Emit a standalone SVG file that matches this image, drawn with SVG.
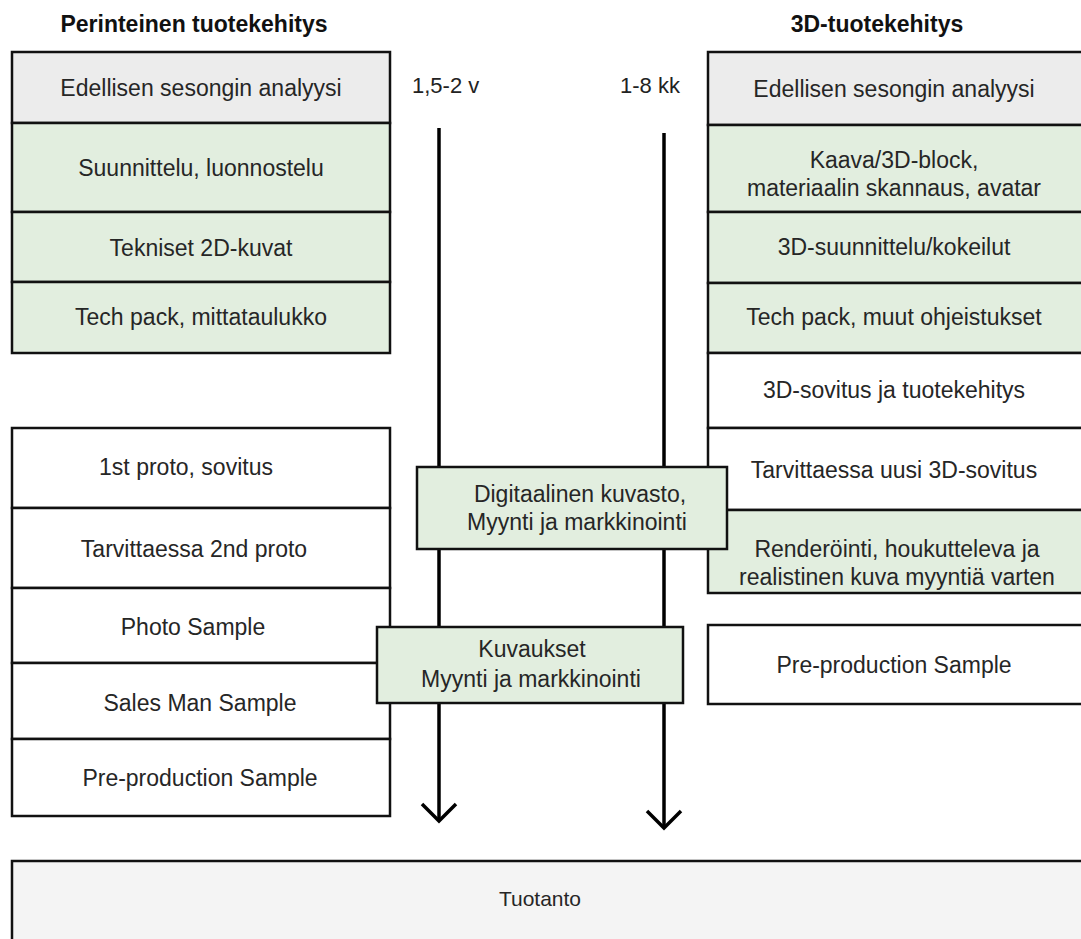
<svg xmlns="http://www.w3.org/2000/svg" width="1081" height="939" viewBox="0 0 1081 939">
<style>
  .box { stroke: #111; stroke-width: 2.5; }
  .gray { fill: #ececec; }
  .green { fill: #e2eedf; }
  .white { fill: #ffffff; }
  .prod { fill: #f4f4f4; }
  .t { font-family: "Liberation Sans", Arial, sans-serif; font-size: 23px; fill: #262626; text-anchor: middle; }
  .tp { font-family: "Liberation Sans", Arial, sans-serif; font-size: 21px; fill: #262626; text-anchor: middle; }
  .h { font-family: "Liberation Sans", Arial, sans-serif; font-size: 23px; font-weight: bold; fill: #111; text-anchor: middle; }
  .lbl { font-family: "Liberation Sans", Arial, sans-serif; font-size: 22px; fill: #222; }
  .arrow { stroke: #000; stroke-width: 3.5; fill: none; }
</style>
<rect width="1081" height="939" fill="#ffffff"/>

<text class="h" x="194" y="32">Perinteinen tuotekehitys</text>
<text class="h" x="877" y="32">3D-tuotekehitys</text>
<text class="lbl" x="412" y="93">1,5-2 v</text>
<text class="lbl" x="620" y="93">1-8 kk</text>

<g id="connectors">
  <line class="arrow" x1="439" y1="128" x2="439" y2="821"/>
  <polyline class="arrow" points="422,804 439,821 456,804"/>
  <line class="arrow" x1="664" y1="133" x2="664" y2="828"/>
  <polyline class="arrow" points="647,811 664,828 681,811"/>
</g>

<g id="left-column">
  <g id="l1"><rect class="box gray" x="12" y="52" width="378" height="71"/><text class="t" x="201" y="96">Edellisen sesongin analyysi</text></g>
  <g id="l2"><rect class="box green" x="12" y="123" width="378" height="89"/><text class="t" x="201" y="176">Suunnittelu, luonnostelu</text></g>
  <g id="l3"><rect class="box green" x="12" y="212" width="378" height="70"/><text class="t" x="201" y="256">Tekniset 2D-kuvat</text></g>
  <g id="l4"><rect class="box green" x="12" y="282" width="378" height="71"/><text class="t" x="201" y="325">Tech pack, mittataulukko</text></g>
  <g id="l5"><rect class="box white" x="12" y="428" width="378" height="80"/><text class="t" x="186" y="475">1st proto, sovitus</text></g>
  <g id="l6"><rect class="box white" x="12" y="508" width="378" height="80"/><text class="t" x="194" y="557">Tarvittaessa 2nd proto</text></g>
  <g id="l7"><rect class="box white" x="12" y="588" width="378" height="75"/><text class="t" x="193" y="635">Photo Sample</text></g>
  <g id="l8"><rect class="box white" x="12" y="663" width="378" height="76"/><text class="t" x="200" y="711">Sales Man Sample</text></g>
  <g id="l9"><rect class="box white" x="12" y="739" width="378" height="77"/><text class="t" x="200" y="786">Pre-production Sample</text></g>
</g>

<g id="right-column">
  <g id="r1"><rect class="box gray" x="708" y="52" width="380" height="73"/><text class="t" x="894" y="97">Edellisen sesongin analyysi</text></g>
  <g id="r2"><rect class="box green" x="708" y="125" width="380" height="87"/><text class="t" x="894" y="168">Kaava/3D-block,</text><text class="t" x="894" y="196">materiaalin skannaus, avatar</text></g>
  <g id="r3"><rect class="box green" x="708" y="212" width="380" height="71"/><text class="t" x="894" y="255">3D-suunnittelu/kokeilut</text></g>
  <g id="r4"><rect class="box green" x="708" y="283" width="380" height="70"/><text class="t" x="894" y="325">Tech pack, muut ohjeistukset</text></g>
  <g id="r5"><rect class="box white" x="708" y="353" width="380" height="75"/><text class="t" x="894" y="398">3D-sovitus ja tuotekehitys</text></g>
  <g id="r6"><rect class="box white" x="708" y="428" width="380" height="82"/><text class="t" x="894" y="478">Tarvittaessa uusi 3D-sovitus</text></g>
  <g id="r7"><rect class="box green" x="708" y="510" width="380" height="83"/><text class="t" x="897" y="557">Renderöinti, houkutteleva ja</text><text class="t" x="897" y="585">realistinen kuva myyntiä varten</text></g>
  <g id="r8"><rect class="box white" x="708" y="625" width="380" height="79"/><text class="t" x="894" y="673">Pre-production Sample</text></g>
</g>

<g id="digital">
  <rect class="box green" x="417" y="467" width="310" height="82"/>
  <text class="t" x="580" y="502">Digitaalinen kuvasto,</text>
  <text class="t" x="577" y="530">Myynti ja markkinointi</text>
</g>
<g id="kuvaukset">
  <rect class="box green" x="377" y="627" width="306" height="76"/>
  <text class="t" x="532" y="657">Kuvaukset</text>
  <text class="t" x="531" y="687">Myynti ja markkinointi</text>
</g>

<g id="tuotanto">
  <rect class="box prod" x="12" y="861" width="1080" height="90"/>
  <text class="tp" x="540" y="906">Tuotanto</text>
</g>
</svg>
